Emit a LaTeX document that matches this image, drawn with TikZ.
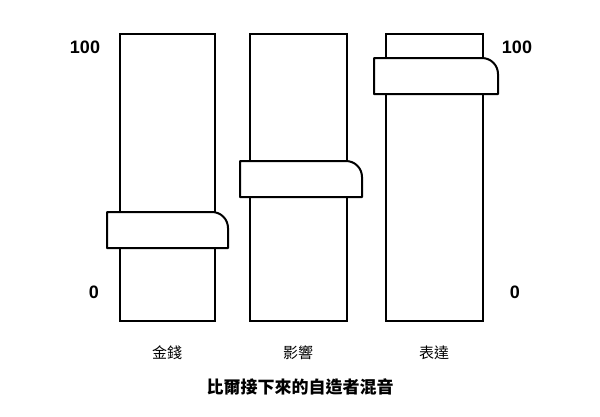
\documentclass[tikz,border=0pt]{standalone}
\usepackage{fontspec}
\setmainfont{Liberation Sans}
\newfontfamily\cjk{Noto Sans CJK TC}
\begin{document}
\begin{tikzpicture}[x=1pt,y=-1pt,
  bar/.style={draw=black,line width=2pt,fill=white},
  num/.style={font=\bfseries\fontsize{18}{20}\selectfont},
  lab/.style={font=\cjk\fontsize{15}{17}\selectfont},
  ttl/.style={font=\cjk\bfseries\fontsize{17}{19}\selectfont}]
\useasboundingbox (0,0) rectangle (600,416);
\draw[bar] (120,34) rectangle (215,321);
\draw[bar] (250,34) rectangle (347,321);
\draw[bar] (386,34) rectangle (483,321);
\newcommand\slider[3]{\draw[bar,line join=round] (#1,#3+36) -- (#1,#3) -- (#2-16,#3) arc[start angle=-90,end angle=0,radius=16] -- (#2,#3+36) -- cycle;}
\slider{107}{228}{212}
\slider{240}{362}{161}
\slider{374}{498}{58}
\node[num] (l100) at (85,47) {100};
\node[num] (l0) at (94,292) {0};
\node[num] (r100) at (517,47) {100};
\node[num] (r0) at (515,292) {0};
\node[lab] (a) at (167,353) {金錢};
\node[lab] (b) at (298,353) {影響};
\node[lab] (c) at (434,353) {表達};
\node[ttl] (t) at (300,387) {比爾接下來的自造者混音};
\end{tikzpicture}
\end{document}
